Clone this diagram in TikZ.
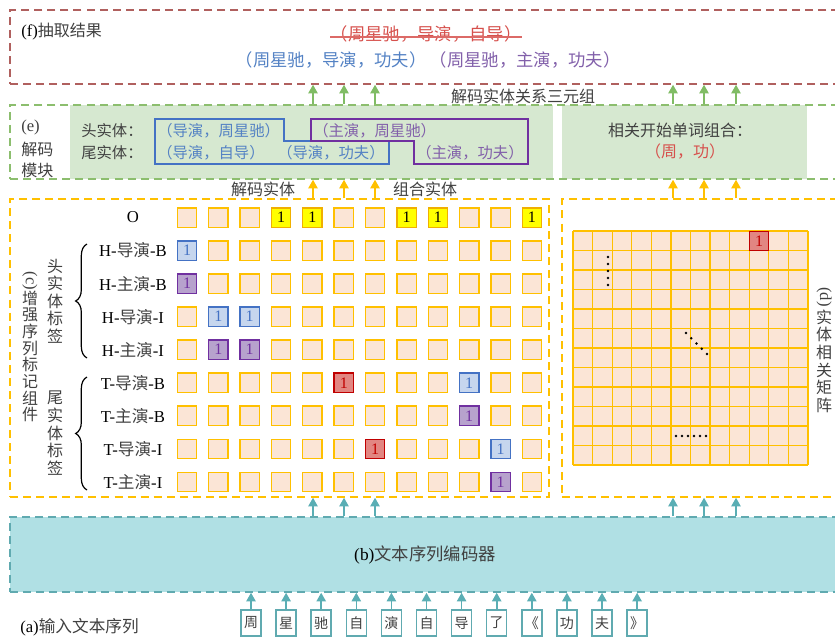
\documentclass[tikz,border=0pt]{standalone}
\usepackage{fontspec}
\setmainfont{Liberation Serif}
\newfontfamily\cjk{Noto Sans CJK SC}
\usetikzlibrary{arrows.meta,decorations.pathreplacing,fit,calc}
\definecolor{fred}{RGB}{176,96,94}
\definecolor{strikered}{RGB}{214,80,76}
\definecolor{tblue}{RGB}{84,130,196}
\definecolor{tpurple}{RGB}{130,96,170}
\definecolor{gborder}{RGB}{140,190,110}
\definecolor{gfill}{RGB}{214,232,208}
\definecolor{garrow}{RGB}{128,188,100}
\definecolor{orng}{RGB}{255,192,0}
\definecolor{peach}{RGB}{251,229,214}
\definecolor{tealfill}{RGB}{176,224,228}
\definecolor{tealline}{RGB}{96,170,176}
\definecolor{tealarrow}{RGB}{90,174,180}
\definecolor{ebluel}{RGB}{68,114,196}
\definecolor{epurl}{RGB}{112,48,160}
\definecolor{cblue}{RGB}{198,214,238}
\definecolor{cpurple}{RGB}{183,162,205}
\definecolor{cred}{RGB}{226,134,130}
\definecolor{credl}{RGB}{192,0,0}
\definecolor{cyell}{RGB}{255,255,0}
\definecolor{cyelll}{RGB}{240,176,0}
\definecolor{tgray}{RGB}{64,64,64}
\newcommand\zhc[1]{{\cjk\color{tgray}#1}}
\tikzset{
  dbox/.style={draw, line width=1.1pt, dash pattern=on 6pt off 3.8pt, inner sep=0pt},
  zh/.style={font=\fontsize{12}{14}\selectfont\cjk, text=tgray, inner sep=0pt},
  zhe/.style={font=\fontsize{11.5}{13}\selectfont\cjk, inner sep=0pt, anchor=west},
  zhf/.style={font=\fontsize{13}{15}\selectfont\cjk, inner sep=0pt},
  lat/.style={font=\fontsize{12.5}{14}\selectfont, text=black, inner sep=0pt},
  arr/.style={line width=1.2pt, -{Triangle[length=6.5pt,width=7pt]}},
  cell/.style={draw=orng, fill=peach, line width=1pt, minimum size=14.5pt, inner sep=0pt, font=\fontsize{12}{12}\selectfont},
  chbox/.style={draw=tealline, fill=white, line width=1.1pt, minimum width=15pt, minimum height=19.5pt, inner sep=0pt, font=\fontsize{10.5}{12}\selectfont\cjk, text=tgray},
  dotm/.style={fill=black, inner sep=0pt, minimum size=2.2pt, circle},
}
\begin{document}
\begin{tikzpicture}[x=0.75pt,y=-0.75pt]
\useasboundingbox (0,0) rectangle (835,639);

% ---------- (f) ----------
\node[dbox, draw=fred, fit={(10,10) (845,84)}] (boxF) {};
\node[lat, anchor=west] (ftitle) at (21,32) {(f)\zhc{\fontsize{12}{14}\selectfont 抽取结果}};
\node[zhf, text=strikered] (fstrike) at (426,34) {（周星驰，导演，自导）};
\draw[strikered!85, line width=1.2pt] ($(fstrike.west)+(0,3)$) -- ($(fstrike.east)+(0,3)$);
\node[zhf, text=tblue] (fres1) at (331,60) {（周星驰，导演，功夫）};
\node[zhf, text=tpurple] (fres2) at (525,60) {（周星驰，主演，功夫）};

% ---------- (e) ----------
\node[fill=gfill, inner sep=0pt, fit={(70,105) (553,179)}] (fillL) {};
\node[fill=gfill, inner sep=0pt, fit={(562,105) (807,179)}] (fillR) {};
\node[dbox, draw=gborder, fit={(10,105) (845,179)}] (boxE) {};
\node[lat, anchor=west, text=tgray] (elab1) at (21,127) {(e)};
\node[zh, anchor=west] (elab2) at (21,149) {解码};
\node[zh, anchor=west] (elab3) at (21,170) {模块};
\node[zhe, text=tgray] (head) at (81,131) {头实体：};
\node[zhe, text=tgray] (tail) at (81,153) {尾实体：};
\node[zhe, text=tblue] (e1) at (157,131) {（导演，周星驰）};
\node[zhe, text=tpurple] (e2) at (313,131) {（主演，周星驰）};
\node[zhe, text=tblue] (e3) at (157,153) {（导演，自导）};
\node[zhe, text=tblue] (e4) at (277,153) {（导演，功夫）};
\node[zhe, text=tpurple] (e5) at (416,153) {（主演，功夫）};
\draw[ebluel, line width=0.9pt] (155,119) -- (284,119) -- (284,141) -- (389,141) -- (389,164) -- (155,164) -- cycle;
\draw[epurl, line width=0.9pt] (311,119) -- (528,119) -- (528,164) -- (414,164) -- (414,141) -- (311,141) -- cycle;
\node[zh] (rtitle) at (680,130) {相关开始单词组合：};
\node[zh, text=strikered] (rpair) at (685,152) {（周，功）};
\node[zh] (triple) at (523,96) {解码实体关系三元组};
\node[zh] (decent) at (263,189) {解码实体};
\node[zh] (comb) at (425,189) {组合实体};

% ---------- (c) ----------
\node[dbox, draw=orng, fit={(10,199) (549,497)}] (boxC) {};
\node[dbox, draw=orng, fit={(562,199) (845,497)}] (boxD) {};

\foreach \r in {0,...,8}
  \foreach \c in {0,...,11}
    \node[cell] (g\r-\c) at ({187+31.36*\c},{217.5+33.05*\r}) {};
\foreach \r/\c in {0/3,0/4,0/7,0/8,0/11}
  \node[cell, draw=cyelll, fill=cyell, text=black] (y\r-\c) at (g\r-\c) {1};
\foreach \r/\c in {1/0,3/1,3/2,5/9,7/10}
  \node[cell, draw=ebluel, fill=cblue, text=ebluel] (b\r-\c) at (g\r-\c) {1};
\foreach \r/\c in {2/0,4/1,4/2,6/9,8/10}
  \node[cell, draw=epurl, fill=cpurple, text=epurl] (p\r-\c) at (g\r-\c) {1};
\foreach \r/\c in {5/5,7/6}
  \node[cell, draw=credl, fill=cred, text=credl] (r\r-\c) at (g\r-\c) {1};

\foreach \lab [count=\r from 0] in {O, H-\zhc{导演}-B, H-\zhc{主演}-B, H-\zhc{导演}-I, H-\zhc{主演}-I, T-\zhc{导演}-B, T-\zhc{主演}-B, T-\zhc{导演}-I, T-\zhc{主演}-I}
  \node[lat] (rl\r) at (133,{217.5+33.05*\r}) {\lab};

\draw[decorate, decoration={brace, amplitude=8.5pt}, line width=0.9pt] (87,358) -- (87,244);
\draw[decorate, decoration={brace, amplitude=8.5pt}, line width=0.9pt] (87,490) -- (87,377);

\node[lat, rotate=-90, text=tgray] (clab) at (30,281) {(c)};
\foreach \zz [count=\k from 0] in {增,强,序,列,标,记,组,件}
  \node[zh] (cz\k) at (30,{298+16.7*\k}) {\zz};
\foreach \zz [count=\k from 0] in {头,实,体,标,签}
  \node[zh] (hz\k) at (55,{266+17.6*\k}) {\zz};
\foreach \zz [count=\k from 0] in {尾,实,体,标,签}
  \node[zh] (tz\k) at (55,{398+17.6*\k}) {\zz};

% ---------- (d) ----------
\fill[peach] (573,231) rectangle (808,465);
\foreach \i in {0,...,12} {
  \draw[orng, line width=0.9pt] ({573+235/12*\i},231) -- ({573+235/12*\i},465);
  \draw[orng, line width=0.9pt] (573,{231+19.5*\i}) -- (808,{231+19.5*\i});
}
\node[draw=credl, fill=cred, text=credl, line width=1pt, minimum width=14.3pt, minimum height=14.3pt, inner sep=0pt, font=\fontsize{12}{12}\selectfont] (mred) at ({573+235/12*9.5},{231+19.5*0.5}) {1};
\foreach \k in {0,...,4} \node[dotm] (vd\k) at (608,{257+7*\k}) {};
\foreach \k in {0,...,4} \node[dotm] (dd\k) at ({686+5.25*\k},{333+5.25*\k}) {};
\foreach \k in {0,...,5} \node[dotm] (hd\k) at ({676+6*\k},436) {};
\node[lat, rotate=-90, text=tgray] (dlab) at (824,297) {(d)};
\foreach \zz [count=\k from 0] in {实,体,相,关,矩,阵}
  \node[zh] (dz\k) at (824,{317+17.7*\k}) {\zz};

% ---------- (b) ----------
\node[dbox, draw=tealline, fill=tealfill, fit={(10,517) (845,592)}] (boxB) {};
\node[lat, font=\fontsize{13}{15}\selectfont] (blab) at (425,555) {(b)\zhc{文本序列编码器}};

% ---------- (a) ----------
\node[lat, anchor=west] (alab) at (20,627) {(a)\zhc{输入文本序列}};
\foreach \zz [count=\i from 0] in {周,星,驰,自,演,自,导,了,《,功,夫,》} {
  \node[chbox] (ch\i) at ({251+35.1*\i},623) {\zz};
  \draw[arr, tealarrow] (ch\i.north) -- (ch\i.north |- boxB.south);
}

% ---------- arrows between stages ----------
\foreach \x [count=\i] in {313,344,375,673,704,736} {
  \coordinate (ax\i) at (\x,0);
  \draw[arr, garrow] (ax\i |- boxE.north) -- (ax\i |- boxF.south);
  \draw[arr, orng] (ax\i |- boxC.north) -- (ax\i |- boxE.south);
}
\foreach \i in {1,2,3} \draw[arr, tealarrow] (ax\i |- boxB.north) -- (ax\i |- boxC.south);
\foreach \i in {4,5,6} \draw[arr, tealarrow] (ax\i |- boxB.north) -- (ax\i |- boxD.south);
\end{tikzpicture}
\end{document}
